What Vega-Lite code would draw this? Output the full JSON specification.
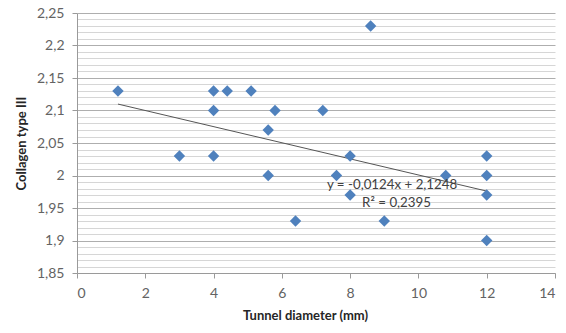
{
  "$schema": "https://vega.github.io/schema/vega-lite/v6.json",
  "autosize": "none",
  "width": 478,
  "height": 260,
  "padding": {"left": 77, "top": 13, "right": 11, "bottom": 60},
  "background": "white",
  "config": {
    "view": {"stroke": null},
    "font": "Lato",
    "axis": {"labelFont": "Lato", "titleFont": "Lato"}
  },
  "datasets": {
    "pts": [
      {"d": 1.2, "c": 2.13},
      {"d": 3, "c": 2.03},
      {"d": 4, "c": 2.13},
      {"d": 4, "c": 2.10},
      {"d": 4, "c": 2.03},
      {"d": 4.4, "c": 2.13},
      {"d": 5.1, "c": 2.13},
      {"d": 5.6, "c": 2.07},
      {"d": 5.6, "c": 2.00},
      {"d": 5.8, "c": 2.10},
      {"d": 6.4, "c": 1.93},
      {"d": 7.2, "c": 2.10},
      {"d": 7.6, "c": 2.00},
      {"d": 8, "c": 2.03},
      {"d": 8, "c": 1.97},
      {"d": 8.6, "c": 2.23},
      {"d": 9, "c": 1.93},
      {"d": 10.8, "c": 2.00},
      {"d": 12, "c": 2.03},
      {"d": 12, "c": 2.00},
      {"d": 12, "c": 1.97},
      {"d": 12, "c": 1.90}
    ],
    "trend": [
      {"d": 1.2, "c": 2.1099},
      {"d": 12, "c": 1.976}
    ],
    "labels": [
      {"d": 7.32, "c": 1.985, "t": "y = -0,0124x + 2,1248"},
      {"d": 8.35, "c": 1.958, "t": "R² = 0,2395"}
    ]
  },
  "encoding": {
    "x": {
      "field": "d", "type": "quantitative",
      "scale": {"domain": [0, 14], "nice": false, "zero": false},
      "axis": {
        "title": "Tunnel diameter (mm)",
        "values": [0, 2, 4, 6, 8, 10, 12, 14],
        "grid": false,
        "domainColor": "#9a9a9a",
        "tickColor": "#9a9a9a",
        "tickSize": 5,
        "labelPadding": 8,
        "labelFontSize": 14,
        "labelColor": "#636363",
        "titleFontSize": 13,
        "titleFontWeight": "bold",
        "titleColor": "#262626",
        "titlePadding": 9,
        "titleX": 228
      }
    },
    "y": {
      "field": "c", "type": "quantitative",
      "scale": {"domain": [1.85, 2.25], "nice": false, "zero": false},
      "axis": {
        "title": "Collagen type III",
        "values": [1.85, 1.86, 1.87, 1.88, 1.89, 1.9, 1.91, 1.92, 1.93, 1.94, 1.95, 1.96, 1.97, 1.98, 1.99, 2, 2.01, 2.02, 2.03, 2.04, 2.05, 2.06, 2.07, 2.08, 2.09, 2.1, 2.11, 2.12, 2.13, 2.14, 2.15, 2.16, 2.17, 2.18, 2.19, 2.2, 2.21, 2.22, 2.23, 2.24, 2.25],
        "labelExpr": "round(datum.value*100)%5==0 ? replace(toString(datum.value), '.', ',') : ''",
        "labelOverlap": false,
        "grid": true,
        "gridColor": {"condition": {"test": "round(datum.value*100)%5==0", "value": "#aeaeae"}, "value": "#d6d6d6"},
        "gridWidth": 1,
        "domainColor": "#9a9a9a",
        "tickColor": {"condition": {"test": "round(datum.value*100)%5==0", "value": "#9a9a9a"}, "value": "transparent"},
        "tickSize": 5,
        "labelPadding": 8,
        "labelFontSize": 14,
        "labelColor": "#636363",
        "titleFontSize": 13,
        "titleFontWeight": "bold",
        "titleColor": "#262626",
        "titlePadding": 8
      }
    }
  },
  "layer": [
    {
      "data": {"name": "trend"},
      "mark": {"type": "line", "color": "#555555", "strokeWidth": 1}
    },
    {
      "data": {"name": "pts"},
      "mark": {"type": "point", "shape": "diamond", "filled": true, "size": 130, "color": "#4f81bd", "opacity": 1}
    },
    {
      "data": {"name": "labels"},
      "mark": {"type": "text", "align": "left", "baseline": "middle", "fontSize": 13.3, "color": "#404040", "font": "Lato"},
      "encoding": {"text": {"field": "t"}}
    }
  ]
}
